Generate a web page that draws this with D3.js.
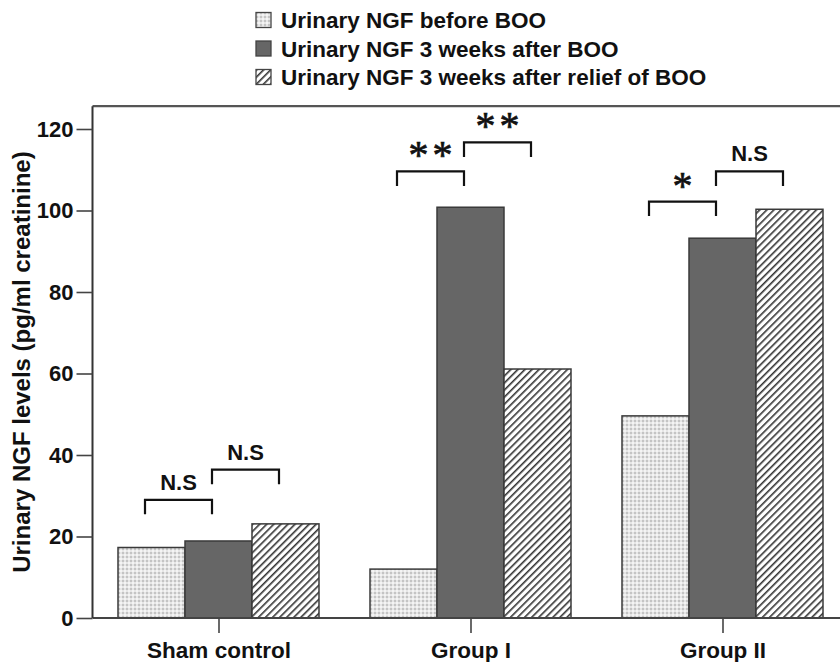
<!DOCTYPE html>
<html>
<head>
<meta charset="utf-8">
<script src="https://cdn.jsdelivr.net/npm/d3@7"></script>
<style>
  html, body { margin: 0; padding: 0; background: #fff; }
  svg { display: block; font-family: "Liberation Sans", Arial, sans-serif; }
</style>
</head>
<body>
<svg id="chart" width="840" height="662"></svg>
<script>
// ---- data ----
const categories = ["Sham control", "Group I", "Group II"];
const seriesNames = [
  "Urinary NGF before BOO",
  "Urinary NGF 3 weeks after BOO",
  "Urinary NGF 3 weeks after relief of BOO"
];
const beforeBOO = [17.3, 12.0, 49.6];
const afterBOO = [18.9, 100.8, 93.2];
const afterRelief = [23.1, 61.1, 100.3];
const yTicks = [0, 20, 40, 60, 80, 100, 120];
const yTitle = "Urinary NGF levels (pg/ml creatinine)";
// significance brackets: category, from series index, to series index, height (data units), label
const bracketCat = ["Sham control", "Sham control", "Group I", "Group I", "Group II", "Group II"];
const bracketFrom = [0, 1, 0, 1, 0, 1];
const bracketTo = [1, 2, 1, 2, 1, 2];
const bracketLevel = [29.0, 36.4, 109.6, 116.7, 102.2, 109.6];
const bracketLabel = ["N.S", "N.S", "**", "**", "*", "N.S"];

const seriesValues = [beforeBOO, afterBOO, afterRelief];
const rows = categories.map((c, i) => ({cat: c, vals: seriesValues.map(s => s[i])}));

// ---- layout ----
const svg = d3.select("#chart");
const W = 840;
const x0 = d3.scaleBand().domain(categories).range([92.5, 848.5]).paddingInner(0.2024).paddingOuter(0.1012);
const x1 = d3.scaleBand().domain(d3.range(seriesNames.length)).range([0, x0.bandwidth()]);
const y = d3.scaleLinear().domain([0, 120]).range([618, 129]);
const yTop = 125.6;
const axisLeftX = 92.5;

// ---- patterns ----
const defs = svg.append("defs");
const dots = defs.append("pattern").attr("id", "dots").attr("patternUnits", "userSpaceOnUse")
  .attr("width", 4).attr("height", 4);
dots.append("rect").attr("width", 4).attr("height", 4).attr("fill", "#e6e6e6");
dots.append("rect").attr("x", 0).attr("y", 0).attr("width", 2).attr("height", 2).attr("fill", "#c4c4c4");
dots.append("rect").attr("x", 2).attr("y", 2).attr("width", 2).attr("height", 2).attr("fill", "#f4f4f4");

const hatch = defs.append("pattern").attr("id", "hatch").attr("patternUnits", "userSpaceOnUse")
  .attr("width", 5).attr("height", 5).attr("patternTransform", "rotate(45)");
hatch.append("rect").attr("width", 5).attr("height", 5).attr("fill", "#fff");
hatch.append("line").attr("x1", 0).attr("y1", 0).attr("x2", 0).attr("y2", 5)
  .attr("stroke", "#333").attr("stroke-width", 3.2);

const fills = ["url(#dots)", "#666666", "url(#hatch)"];

// ---- bars ----
const g = svg.append("g");
g.selectAll("g.grp").data(rows).join("g").attr("class", "grp")
  .attr("transform", d => `translate(${x0(d.cat)},0)`)
  .selectAll("rect").data(d => d.vals.map((v, i) => ({v, i})))
  .join("rect")
  .attr("x", d => x1(d.i))
  .attr("y", d => y(d.v))
  .attr("width", x1.bandwidth())
  .attr("height", d => y(0) - y(d.v))
  .attr("fill", d => fills[d.i])
  .attr("stroke", "#3a3a3a")
  .attr("stroke-width", 1.5);

// ---- frame ----
svg.append("line").attr("x1", axisLeftX).attr("x2", W).attr("y1", y(yTop)).attr("y2", y(yTop))
  .attr("stroke", "#555").attr("stroke-width", 2.2);
svg.append("line").attr("x1", axisLeftX).attr("x2", W).attr("y1", y(0)).attr("y2", y(0))
  .attr("stroke", "#444").attr("stroke-width", 1.8);

// ---- axes ----
const yAxis = d3.axisLeft(y).tickValues(yTicks).tickSize(16).tickPadding(3).tickFormat(d3.format("d"));
const ya = svg.append("g").attr("transform", `translate(${axisLeftX},0)`).call(yAxis);
ya.select(".domain").attr("d", `M0,${y(0)}V${y(yTop)}`).attr("stroke", "#333").attr("stroke-width", 2);
ya.selectAll(".tick line").attr("stroke", "#444").attr("stroke-width", 1.6);
ya.selectAll(".tick text").attr("font-size", 22).attr("font-weight", "bold").attr("fill", "#111")
  .attr("font-family", "Liberation Sans, Arial, sans-serif");

const xAxis = d3.axisBottom(d3.scalePoint().domain(categories)
  .range([x0(categories[0]) + x1(1) + x1.bandwidth() / 2, x0(categories[2]) + x1(1) + x1.bandwidth() / 2]))
  .tickSize(15).tickPadding(9);
const xa = svg.append("g").attr("transform", `translate(0,${y(0)})`).call(xAxis);
xa.select(".domain").remove();
xa.selectAll(".tick line").attr("stroke", "#444").attr("stroke-width", 1.6);
xa.selectAll(".tick text").attr("font-size", 22.5).attr("font-weight", "bold").attr("fill", "#111")
  .attr("font-family", "Liberation Sans, Arial, sans-serif");

// y title
svg.append("text")
  .attr("transform", `translate(30,${(y(0) + y(yTop)) / 2}) rotate(-90)`)
  .attr("text-anchor", "middle")
  .attr("font-size", 24).attr("font-weight", "bold").attr("fill", "#111")
  .text(yTitle);

// ---- brackets ----
const brackets = bracketCat.map((c, i) => ({cat: c, a: bracketFrom[i], b: bracketTo[i], lvl: bracketLevel[i], label: bracketLabel[i]}));
const bx = (cat, s) => x0(cat) + x1(s) + x1.bandwidth() / 2 - 6.5;
const legLen = 14.5;
const bg = svg.append("g");
brackets.forEach(b => {
  const xa_ = bx(b.cat, b.a), xb_ = bx(b.cat, b.b), yy = y(b.lvl);
  bg.append("path")
    .attr("d", `M${xa_},${yy + legLen}V${yy}H${xb_}V${yy + legLen}`)
    .attr("fill", "none").attr("stroke", "#111").attr("stroke-width", 2.2);
  const isStar = b.label.indexOf("*") >= 0;
  const t = bg.append("text")
    .attr("x", (xa_ + xb_) / 2)
    .attr("text-anchor", "middle")
    .attr("fill", "#111")
    .text(b.label);
  if (isStar) {
    t.attr("y", yy - 3).attr("font-family", "Liberation Serif, Times New Roman, serif")
      .attr("font-size", 40).attr("font-weight", "normal").attr("letter-spacing", 4)
      .attr("dx", 2).attr("stroke", "#111").attr("stroke-width", 0.7);
  } else {
    t.attr("y", yy - 10).attr("font-size", 22).attr("font-weight", "bold");
  }
});

// ---- legend ----
const legY = [20, 48.5, 77];
const lg = svg.append("g");
seriesNames.forEach((n, i) => {
  lg.append("rect").attr("x", 256).attr("y", legY[i] - 7.5).attr("width", 15).attr("height", 15)
    .attr("fill", fills[i]).attr("stroke", "#444").attr("stroke-width", 1.3);
  lg.append("text").attr("x", 281).attr("y", legY[i] + 8)
    .attr("font-size", 22.5).attr("font-weight", "bold").attr("fill", "#111").text(n);
});
</script>
</body>
</html>
